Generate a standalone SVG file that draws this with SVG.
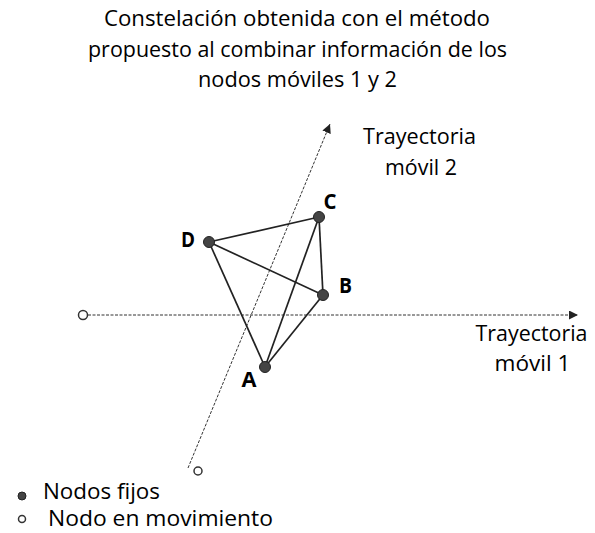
<svg xmlns="http://www.w3.org/2000/svg" width="595" height="533" viewBox="0 0 595 533">
<style>
.t{font-family:"Open Sans","Liberation Sans",sans-serif;font-size:21.5px;fill:#000;text-anchor:middle}
.r{font-family:"Open Sans","Liberation Sans",sans-serif;font-size:22.5px;fill:#000;text-anchor:middle}
.l{font-family:"Open Sans","Liberation Sans",sans-serif;font-size:21px;font-weight:bold;fill:#000}
.g{font-family:"Open Sans","Liberation Sans",sans-serif;font-size:21px;fill:#000}
.e{stroke:#222;stroke-width:1.7;fill:none}
.d{stroke:#333;stroke-width:1;stroke-dasharray:3,1.5;fill:none}
.n{fill:#444;stroke:#222;stroke-width:1}
.m{fill:#fff;stroke:#333;stroke-width:1.5}
</style>
<defs>
<marker id="ar" viewBox="0 0 10 10" refX="10" refY="5" markerWidth="9" markerHeight="9" markerUnits="userSpaceOnUse" orient="auto">
<path d="M0,0 L10,5 L0,10 z" fill="#222"/>
</marker>
</defs>
<g id="title">
<text class="t" x="297" y="26" textLength="386" lengthAdjust="spacingAndGlyphs">Constelación obtenida con el método</text>
<text class="t" x="297.5" y="57" textLength="419" lengthAdjust="spacingAndGlyphs">propuesto al combinar información de los</text>
<text class="t" x="297.5" y="87" textLength="199" lengthAdjust="spacingAndGlyphs">nodos móviles 1 y 2</text>
</g>
<g id="connectors">
<line class="d" x1="88" y1="315" x2="578" y2="315" marker-end="url(#ar)"/>
<line class="d" x1="188" y1="468" x2="330" y2="124" marker-end="url(#ar)"/>
<line class="e" x1="209" y1="242" x2="319" y2="217"/>
<line class="e" x1="209" y1="242" x2="323" y2="295"/>
<line class="e" x1="209" y1="242" x2="265" y2="367"/>
<line class="e" x1="319" y1="217" x2="323" y2="295"/>
<line class="e" x1="319" y1="217" x2="265" y2="367"/>
<line class="e" x1="323" y1="295" x2="265" y2="367"/>
</g>
<g id="traj2">
<text class="r" x="419.5" y="144" textLength="113" lengthAdjust="spacingAndGlyphs">Trayectoria</text>
<text class="r" x="421" y="175" textLength="72" lengthAdjust="spacingAndGlyphs">móvil 2</text>
</g>
<g id="traj1">
<text class="r" x="531.5" y="341" textLength="112" lengthAdjust="spacingAndGlyphs">Trayectoria</text>
<text class="r" x="532.5" y="371" textLength="76" lengthAdjust="spacingAndGlyphs">móvil 1</text>
</g>
<g id="nodeD"><circle class="n" cx="209" cy="242" r="5.5"/><text class="l" x="181" y="247" textLength="14" lengthAdjust="spacingAndGlyphs">D</text></g>
<g id="nodeC"><circle class="n" cx="319" cy="217" r="5.5"/><text class="l" x="323.5" y="209" textLength="13" lengthAdjust="spacingAndGlyphs">C</text></g>
<g id="nodeB"><circle class="n" cx="323" cy="295" r="5.5"/><text class="l" x="339" y="293" textLength="13" lengthAdjust="spacingAndGlyphs">B</text></g>
<g id="nodeA"><circle class="n" cx="265" cy="367" r="5.5"/><text class="l" x="241.5" y="387" textLength="15" lengthAdjust="spacingAndGlyphs">A</text></g>
<g id="mobile1"><circle class="m" cx="83" cy="315" r="4.5"/></g>
<g id="mobile2"><circle class="m" cx="198" cy="471" r="4"/></g>
<g id="legend">
<circle class="n" cx="22" cy="496" r="4"/>
<text class="g" x="43" y="499" textLength="117" lengthAdjust="spacingAndGlyphs">Nodos fijos</text>
<circle class="m" cx="22" cy="519" r="3.5"/>
<text class="g" x="48" y="526" textLength="225" lengthAdjust="spacingAndGlyphs">Nodo en movimiento</text>
</g>
</svg>
